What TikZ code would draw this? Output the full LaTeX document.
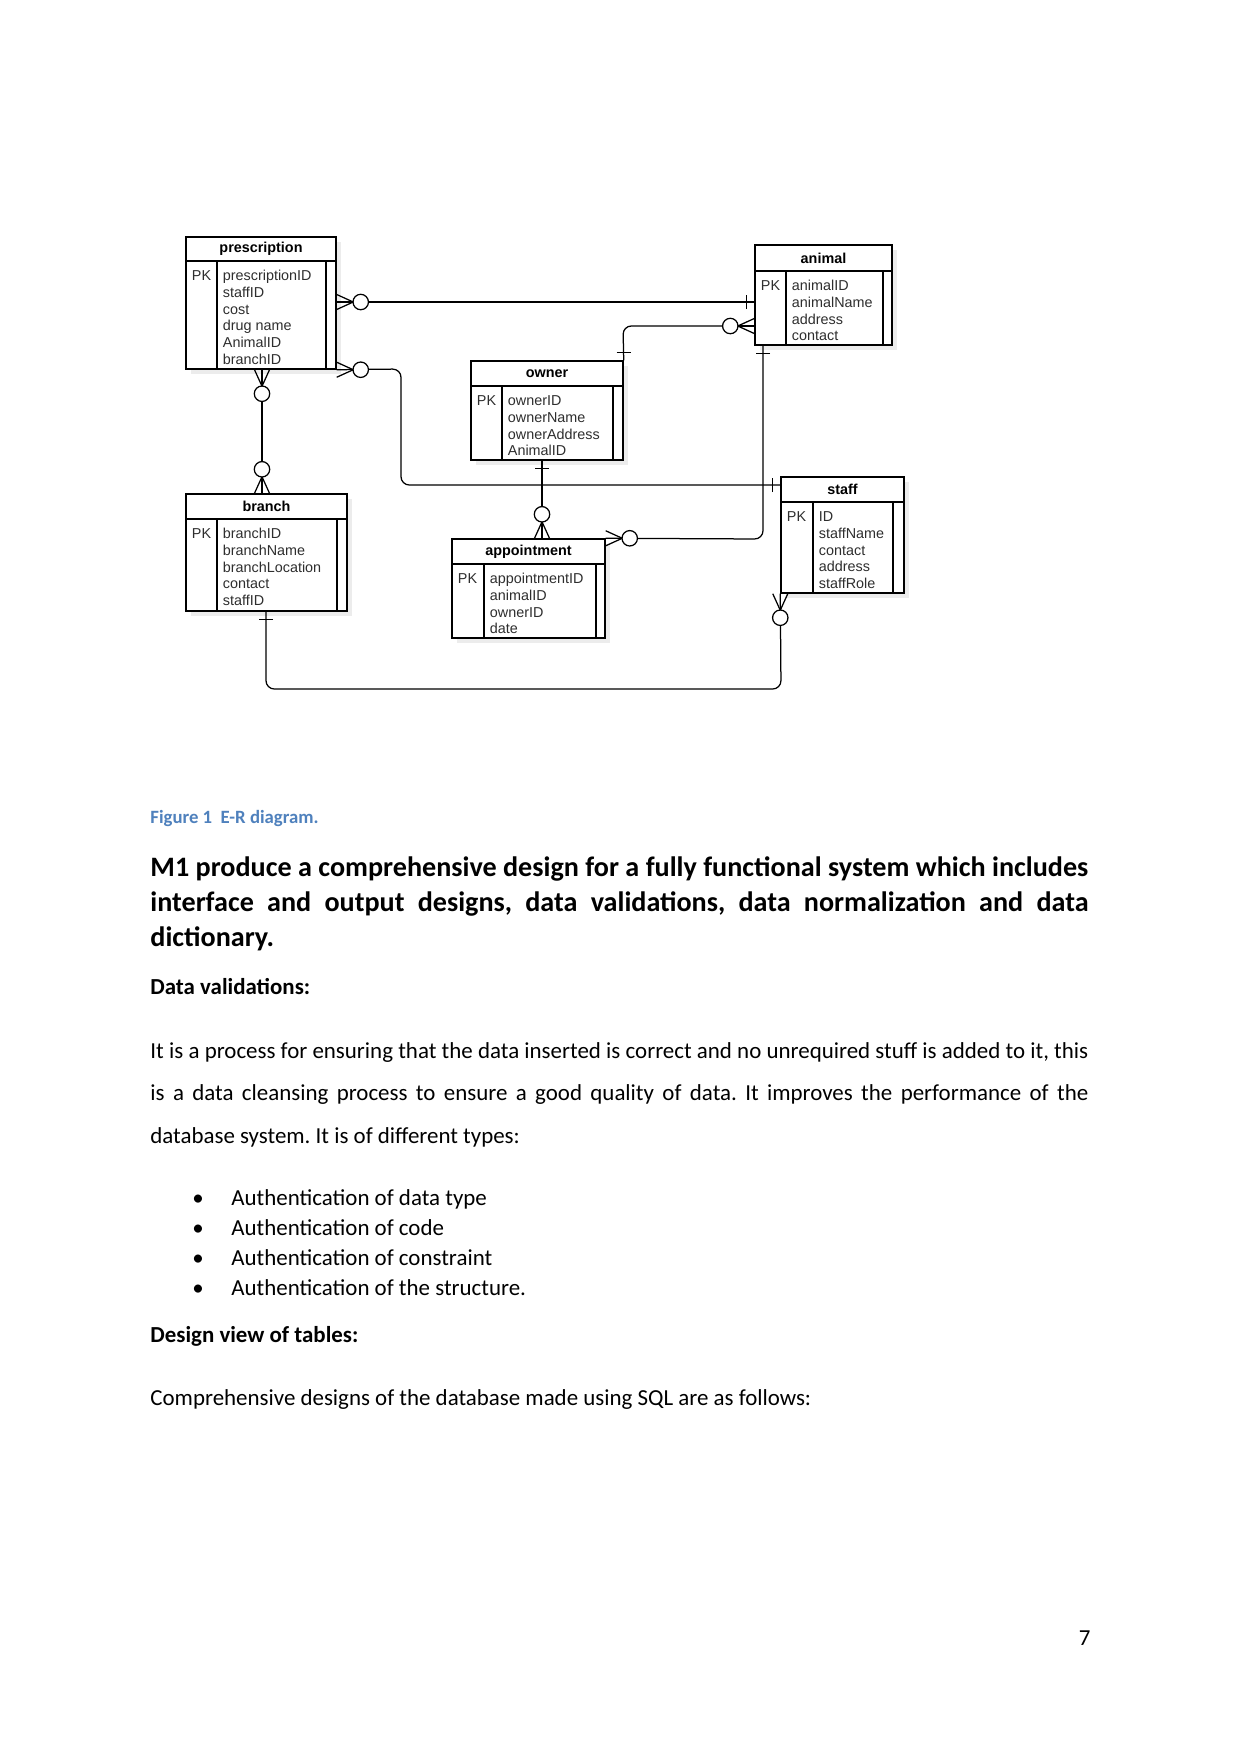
\documentclass[tikz,border=0pt]{standalone}
\usepackage{fontspec}
\setmainfont{Carlito}
\newfontfamily\arialf{Liberation Sans}
\usetikzlibrary{fit,calc}
\definecolor{capblue}{RGB}{79,129,189}
\definecolor{shadowc}{RGB}{236,236,236}
\frenchspacing
\tikzset{
  enttab/.style={draw=black, line width=0.7pt, inner sep=0pt},
  entline/.style={line width=0.7pt},
  conn/.style={line width=0.6pt, rounded corners=4pt},
  enttitle/.style={font=\arialf\bfseries\fontsize{6.9pt}{8pt}\selectfont, inner sep=0pt},
  entfield/.style={font=\arialf\fontsize{6.9pt}{7.9pt}\selectfont, text=black!82, inner sep=0pt, anchor=base west},
  doctext/.style={inner sep=0pt, anchor=base west, font=\fontsize{11pt}{13pt}\selectfont},
  docbold/.style={doctext, font=\fontsize{11pt}{13pt}\selectfont\bfseries},
  pics/zmany/.style={code={
    \draw[line width=0.6pt] (0,-7.5) -- (16.5,0) -- (0,7.5);
    \draw[line width=0.6pt] (0,0) -- (16.5,0);
    \draw[line width=0.6pt, fill=white] (24,0) circle[radius=3.7pt];
  }},
  pics/onemark/.style={code={
    \draw[line width=0.6pt] (7.5,-7) -- (7.5,7);
  }},
}
% entity: name, x1, y1, x2, y2, header y, pk column x, inner right x, title
\newcommand{\ent}[9]{%
  \fill[shadowc] (#2+5,#3+5) rectangle (#4+5,#5+5);
  \node[enttab, fill=white, fit={(#2,#3) (#4,#5)}] (#1) {};
  \draw[entline] (#2,#6) -- (#4,#6);
  \draw[entline] (#7,#6) -- (#7,#5);
  \draw[entline] (#8,#6) -- (#8,#5);
  \node[enttitle] (#1-title) at ({(#2+#4)/2},{(#3+#6)/2}) {#9};
  \node[entfield] (#1-pk) at (#2+5.5,#6+19.5) {PK};
}
% fields: name, pk column x, header y, list
\newcommand{\fields}[4]{%
  \foreach \t [count=\i from 0] in {#4} {
    \node[entfield] (#1-f\i) at (#2+5.5,#3+19.5+16.8*\i) {\t};
  }
}
\begin{document}
\begin{tikzpicture}[x=0.48pt,y=-0.48pt]
\useasboundingbox[fill=white] (0,0) rectangle (1241,1754);

% ---------- entities ----------
\ent{presc}{186}{237}{336}{369}{261}{217}{326}{prescription}
\fields{presc}{217}{261}{prescriptionID,staffID,cost,drug name,AnimalID,branchID}
\ent{animal}{755}{245}{892}{345}{271}{786}{883}{animal}
\fields{animal}{786}{271}{animalID,animalName,address,contact}
\ent{owner}{471}{361}{623}{460}{386}{502}{613}{owner}
\fields{owner}{502}{386}{ownerID,ownerName,ownerAddress,AnimalID}
\ent{branch}{186}{494}{347}{611}{519}{217}{337}{branch}
\fields{branch}{217}{519}{branchID,branchName,branchLocation,contact,staffID}
\ent{appt}{452}{539}{605}{638}{564}{484}{596}{appointment}
\fields{appt}{484}{564}{appointmentID,animalID,ownerID,date}
\ent{staff}{781}{477}{904}{593}{502}{813}{893}{staff}
\fields{staff}{813}{502}{ID,staffName,contact,address,staffRole}

% ---------- connectors ----------
\draw[conn] (presc.east |- 0,302) -- (animal.west |- 0,302);
\draw[conn] (presc.south east) -- (401,369) -- (401,485) -- (staff.west |- 0,485);
\draw[conn] (262,0 |- presc.south) -- (262,0 |- branch.north);
\draw[conn] (animal.west |- 0,326) -- (623,326) -- (owner.north east);
\draw[conn] (763,0 |- animal.south) -- (763,539) -- (appt.north east);
\draw[conn] (542,0 |- owner.south) -- (542,0 |- appt.north);
\draw[conn] (staff.south west) -- (781,689) -- (266,689) -- (266,0 |- branch.south);

% ---------- end markers ----------
\pic at (presc.east |- 0,302) {zmany};
\pic[rotate=180] at (animal.west |- 0,302) {onemark};
\pic at (presc.south east) {zmany};
\pic[rotate=180] at (staff.west |- 0,485) {onemark};
\pic[rotate=-90] at (262,0 |- presc.south) {zmany};
\pic[rotate=90] at (262,0 |- branch.north) {zmany};
\pic[rotate=180] at (animal.west |- 0,326) {zmany};
\pic[rotate=90] at (owner.north east) {onemark};
\pic[rotate=-90] at (763,0 |- animal.south) {onemark};
\pic at (appt.north east) {zmany};
\pic[rotate=-90] at (542,0 |- owner.south) {onemark};
\pic[rotate=90] at (542,0 |- appt.north) {zmany};
\pic[rotate=-90] at (staff.south west) {zmany};
\pic[rotate=-90] at (266,0 |- branch.south) {onemark};

% ---------- document text ----------
\node[inner sep=0pt, anchor=base west, text=capblue, font=\fontsize{9pt}{11pt}\selectfont\bfseries] (cap) at (150,823) {Figure 1\ \ E-R diagram.};

\node[inner sep=0pt, anchor=base west, font=\fontsize{13.5pt}{16pt}\selectfont\bfseries] (h1) at (150,876) {\makebox[450.2pt][s]{M1 produce a comprehensive design for a fully functional system which includes}};
\node[inner sep=0pt, anchor=base west, font=\fontsize{13.5pt}{16pt}\selectfont\bfseries] (h2) at (150,911) {\makebox[450.2pt][s]{interface and output designs, data validations, data normalization and data}};
\node[inner sep=0pt, anchor=base west, font=\fontsize{13.5pt}{16pt}\selectfont\bfseries] (h3) at (150,946) {dictionary.};

\node[docbold] (dv) at (150,994) {Data validations:};

\node[doctext] (p1) at (150,1058) {\makebox[450.2pt][s]{It is a process for ensuring that the data inserted is correct and no unrequired stuff is added to it, this}};
\node[doctext] (p2) at (150,1100) {\makebox[450.2pt][s]{is a data cleansing process to ensure a good quality of data. It improves the performance of the}};
\node[doctext] (p3) at (150,1143) {database system. It is of different types:};

\foreach \t [count=\i from 0] in {Authentication of data type,Authentication of code,Authentication of constraint,Authentication of the structure.} {
  \node[inner sep=0pt, anchor=base, font=\fontsize{11pt}{13pt}\selectfont] (bul\i) at (198,1205+30.3*\i) {•};
  \node[doctext] (bt\i) at (231,1205+30.3*\i) {\t};
}

\node[docbold] (dvt) at (150,1342) {Design view of tables:};
\node[doctext] (cd) at (150,1405) {Comprehensive designs of the database made using SQL are as follows:};

\node[inner sep=0pt, anchor=base east, font=\fontsize{11pt}{13pt}\selectfont] (pg) at (1091,1645) {7};
\end{tikzpicture}
\end{document}
